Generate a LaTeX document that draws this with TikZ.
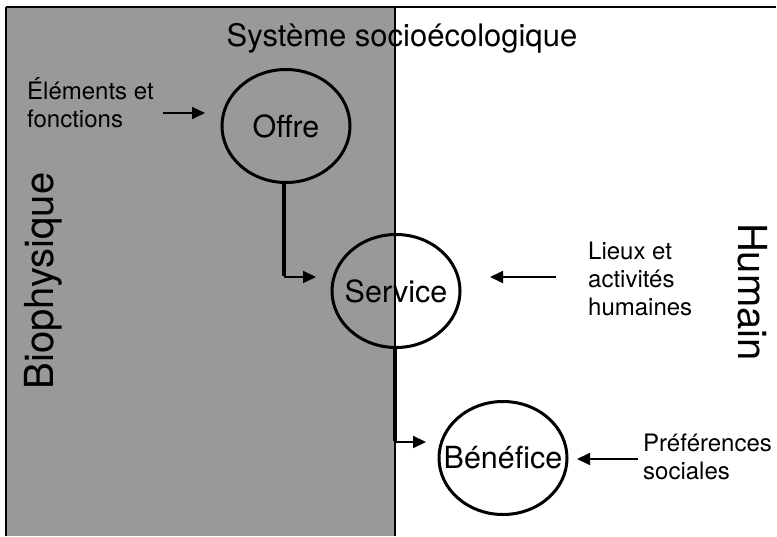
\documentclass[tikz,border=0pt]{standalone}
\usepackage{fontspec}
\setmainfont{TeX Gyre Heros}
\usetikzlibrary{shapes.geometric,arrows.meta}
\definecolor{biogrey}{RGB}{153,153,153}
\newcommand{\bubtext}[1]{\makebox[0pt]{#1}}
\begin{document}
\begin{tikzpicture}[x=1pt,y=-1pt,
 bubble/.style={draw,line width=3pt,ellipse,minimum width=128pt,minimum height=113pt,inner sep=0pt,font=\fontsize{30.5}{36}\selectfont},
 lbl/.style={align=left,inner sep=0pt,anchor=west,font=\fontsize{24}{28}\selectfont},
 feed/.style={line width=1.8pt,-{Triangle[length=13pt,width=12pt]}},
 link/.style={line width=4.5pt},
 linkarrow/.style={line width=2pt,-{Triangle[length=13pt,width=12pt]}},
 side/.style={font=\fontsize{40}{46}\selectfont,inner sep=0pt,anchor=base}]
\useasboundingbox (0,0) rectangle (777,536);
\fill[white] (0,0) rectangle (777,536);
\fill[biogrey] (6,7) rectangle (395,536);
\draw[line width=1.2pt] (395,7) -- (395,536);
\draw[line width=2.5pt] (6,7) -- (776,7);
\draw[line width=2.5pt] (6,7) -- (6,536);

\node[font=\fontsize{31}{36}\selectfont,inner sep=0pt,anchor=base] (title) at (402,46) {Système socioécologique};
\node[side,rotate=90] (bio) at (53,281) {Biophysique};
\node[side,rotate=-90] (hum) at (738,292) {Humain};

\node[bubble] (offre) at (286,126) {\bubtext{Offre}};
\node[bubble] (service) at (396,291) {\bubtext{Service}};
\node[bubble] (benef) at (503,458) {\bubtext{Bénéfice}};

\node[lbl] (elem) at (27,103) {Éléments et\\fonctions};
\node[lbl] (lieux) at (588,279) {Lieux et\\activités\\humaines};
\node[lbl] (pref) at (643,457) {Préférences\\sociales};

\coordinate (f1s) at (163,113);
\coordinate (f1t) at (205,113);
\coordinate (f2s) at (556,277);
\coordinate (f2t) at (490,277);
\coordinate (f3s) at (638,459);
\coordinate (f3t) at (577,459);
\draw[feed] (f1s) -- (f1t);
\draw[feed] (f2s) -- (f2t);
\draw[feed] (f3s) -- (f3t);

\coordinate (k1) at (284,277);
\coordinate (t1) at (316,277);
\coordinate (k2) at (395,442);
\coordinate (t2) at (426,442);
\draw[link] (offre.south -| k1) -- ([yshift=1pt]k1);
\draw[linkarrow] (k1) -- (t1);
\draw[link] (service.south -| k2) -- ([yshift=1pt]k2);
\draw[linkarrow] (k2) -- (t2);
\end{tikzpicture}
\end{document}
